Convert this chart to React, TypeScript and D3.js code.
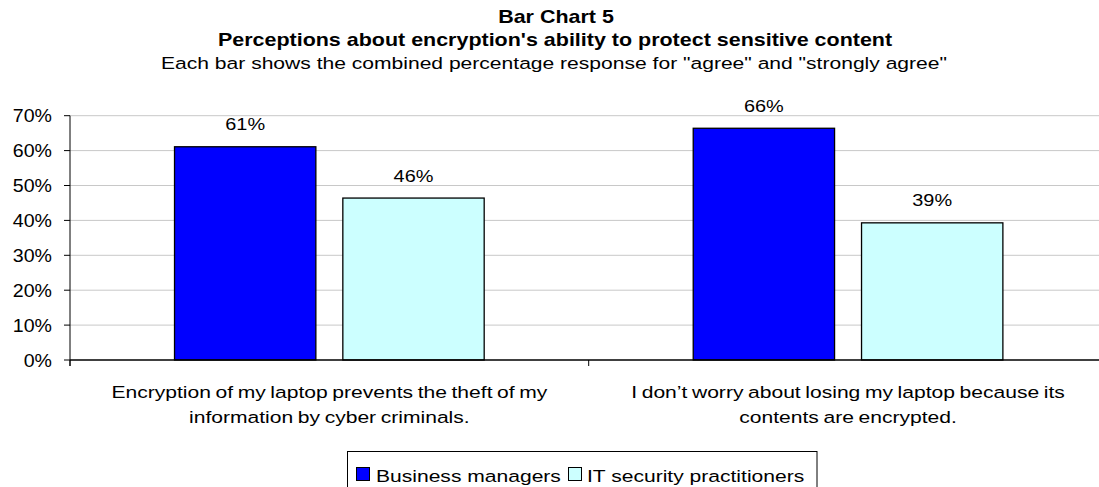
import React from "react";
import * as d3 from "d3";

const categories = [
  ["Encryption of my laptop prevents the theft of my", "information by cyber criminals."],
  ["I don\u2019t worry about losing my laptop because its", "contents are encrypted."],
];
const seriesNames = ["Business managers", "IT security practitioners"];
const businessManagers = [61.1, 66.4];
const itSecurity = [46.4, 39.3];
const yTicks = [0, 10, 20, 30, 40, 50, 60, 70];
const colors = ["#0000FF", "#CCFFFF"];

const W = 1099;
const H = 487;
const FONT = "'Liberation Sans', Arial, sans-serif";
const SX = 1.24;

function SText({ x, y, children, anchor = "middle", size = 17, weight = "normal", sx = SX, ws = 0 }: any) {
  return (
    <g transform={`translate(${x},${y}) scale(${sx},1)`}>
      <text x={0} y={0} textAnchor={anchor} fontSize={size} fontWeight={weight} fontFamily={FONT} fill="#000" wordSpacing={ws}>
        {children}
      </text>
    </g>
  );
}

export default function App() {
  const x0 = 70;
  const x1 = 1107.4;
  const yScale = d3.scaleLinear().domain([0, 70]).range([360, 115.7]);
  const xBand = d3.scaleBand<number>().domain([0, 1]).range([x0, x1]).paddingInner(0).paddingOuter(0);
  const bw = xBand.bandwidth();
  const barW = bw * 0.2725;
  const gap = bw * 0.052;
  const series = [businessManagers, itSecurity];

  return (
    <svg width={W} height={H} style={{ position: "absolute", left: 0, top: 0, background: "#fff" }}>
      <rect x={0} y={0} width={W} height={H} fill="#fff" />
      {/* titles */}
      <SText x={556} y={23} size={19} weight="bold" sx={1.13}>Bar Chart 5</SText>
      <SText x={555} y={46} size={19} weight="bold" sx={1.13}>Perceptions about encryption's ability to protect sensitive content</SText>
      <SText x={554} y={69} size={17}>Each bar shows the combined percentage response for "agree" and "strongly agree"</SText>

      {/* gridlines */}
      {yTicks.filter((t) => t > 0).map((t) => (
        <line key={t} x1={x0} x2={x1} y1={yScale(t)} y2={yScale(t)} stroke="#c8c8c8" strokeWidth={1} />
      ))}

      {/* bars */}
      {categories.map((_, ci) => {
        const c = (xBand(ci) as number) + bw / 2;
        return series.map((s, si) => {
          const bx = si === 0 ? c - gap / 2 - barW : c + gap / 2;
          const v = s[ci];
          return (
            <g key={`${ci}-${si}`}>
              <rect x={bx} y={yScale(v)} width={barW} height={yScale(0) - yScale(v)} fill={colors[si]} stroke="#000" strokeWidth={1.3} />
              <SText x={bx + barW / 2} y={yScale(v) - 16.5} size={17} sx={1.17}>{`${Math.round(v)}%`}</SText>
            </g>
          );
        });
      })}

      {/* y axis */}
      <line x1={x0} x2={x0} y1={yScale(70)} y2={yScale(0) + 6} stroke="#000" strokeWidth={1} />
      {yTicks.map((t) => (
        <g key={t}>
          <line x1={x0 - 6} x2={x0} y1={yScale(t)} y2={yScale(t)} stroke="#000" strokeWidth={1} />
          <SText x={52} y={yScale(t) + 6.5} anchor="end" size={17.5} sx={1.12}>{`${t}%`}</SText>
        </g>
      ))}
      {/* x axis */}
      <line x1={x0} x2={x1} y1={yScale(0)} y2={yScale(0)} stroke="#000" strokeWidth={1.3} />
      {[0, 1, 2].map((i) => {
        const tx = x0 + i * bw;
        return <line key={i} x1={tx} x2={tx} y1={yScale(0)} y2={yScale(0) + 6} stroke="#000" strokeWidth={1} />;
      })}
      {categories.map((lines, ci) => {
        const c = (xBand(ci) as number) + bw / 2;
        return lines.map((ln, li) => (
          <SText key={`${ci}-${li}`} x={c} y={398 + li * 25} size={17} sx={1.24} ws={-1}>{ln}</SText>
        ));
      })}

      {/* legend */}
      <rect x={347.5} y={451.5} width={469.5} height={45} fill="#fff" stroke="#000" strokeWidth={1} />
      <rect x={356.5} y={467.5} width={13} height={13} fill={colors[0]} stroke="#000" strokeWidth={1} />
      <SText x={376} y={481.5} anchor="start" size={17}>{seriesNames[0]}</SText>
      <rect x={568.5} y={467.5} width={13} height={13} fill={colors[1]} stroke="#000" strokeWidth={1} />
      <SText x={587} y={481.5} anchor="start" size={17}>{seriesNames[1]}</SText>
    </svg>
  );
}
